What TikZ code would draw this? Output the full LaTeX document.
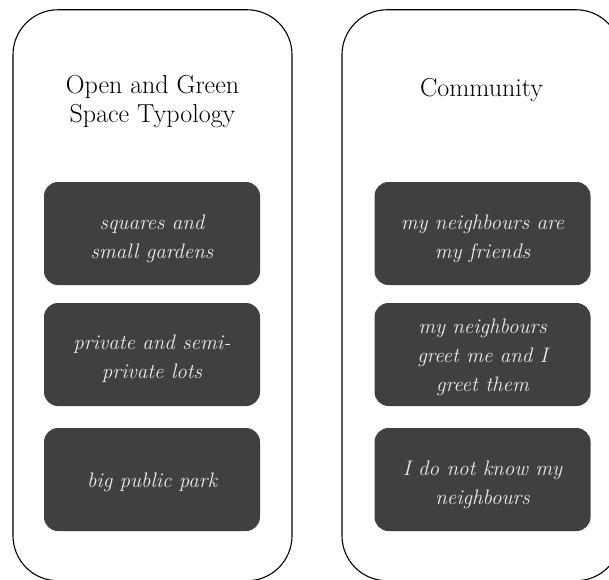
\documentclass[tikz,border=0pt]{standalone}
\usepackage{fontspec}
\setmainfont{Latin Modern Roman}
\definecolor{boxgray}{RGB}{64,64,64}
\definecolor{txtgray}{RGB}{235,235,235}
\begin{document}
\begin{tikzpicture}[x=1pt,y=-1pt,
  panel/.style={draw=black,line width=1.1pt,rounded corners=45pt,minimum width=279pt,minimum height=571pt,inner sep=0pt},
  item/.style={fill=boxgray,rounded corners=14pt,minimum width=216pt,minimum height=103pt,inner sep=0pt},
  itemtext/.style={inner sep=0pt,text=txtgray,align=center,font=\fontsize{21}{29}\selectfont\itshape},
  heading/.style={align=center,font=\fontsize{26}{29}\selectfont,text=black}]
\useasboundingbox (0,0) rectangle (609,579);
\clip (0,0) rectangle (609,579);
\node[panel] (pl) at (152.5,295.25) {};
\node[panel] (pr) at (481.5,295.25) {};
\node[heading] (tl) at (152.5,102) {Open and Green\\Space Typology};
\node[heading] (tr) at (481.5,90) {Community};
\node[item] (l1) at (152,233.5) {};
\node[item] (l2) at (152,354.5) {};
\node[item] (l3) at (152,479.5) {};
\node[item] (r1) at (482.5,233.5) {};
\node[item] (r2) at (482.5,354.5) {};
\node[item] (r3) at (482.5,479.5) {};
\node[itemtext] (l1t) at ([yshift=-5pt]l1.center) {squares and\\small gardens};
\node[itemtext] (l2t) at ([yshift=-4pt]l2.center) {private and semi-\\private lots};
\node[itemtext] (l3t) at ([yshift=-3pt]l3.center) {big public park};
\node[itemtext] (r1t) at ([yshift=-5pt]r1.center) {my neighbours are\\my friends};
\node[itemtext] (r2t) at ([yshift=-3pt]r2.center) {my neighbours\\greet me and I\\greet them};
\node[itemtext] (r3t) at ([yshift=-5pt]r3.center) {I do not know my\\neighbours};
\end{tikzpicture}
\end{document}
